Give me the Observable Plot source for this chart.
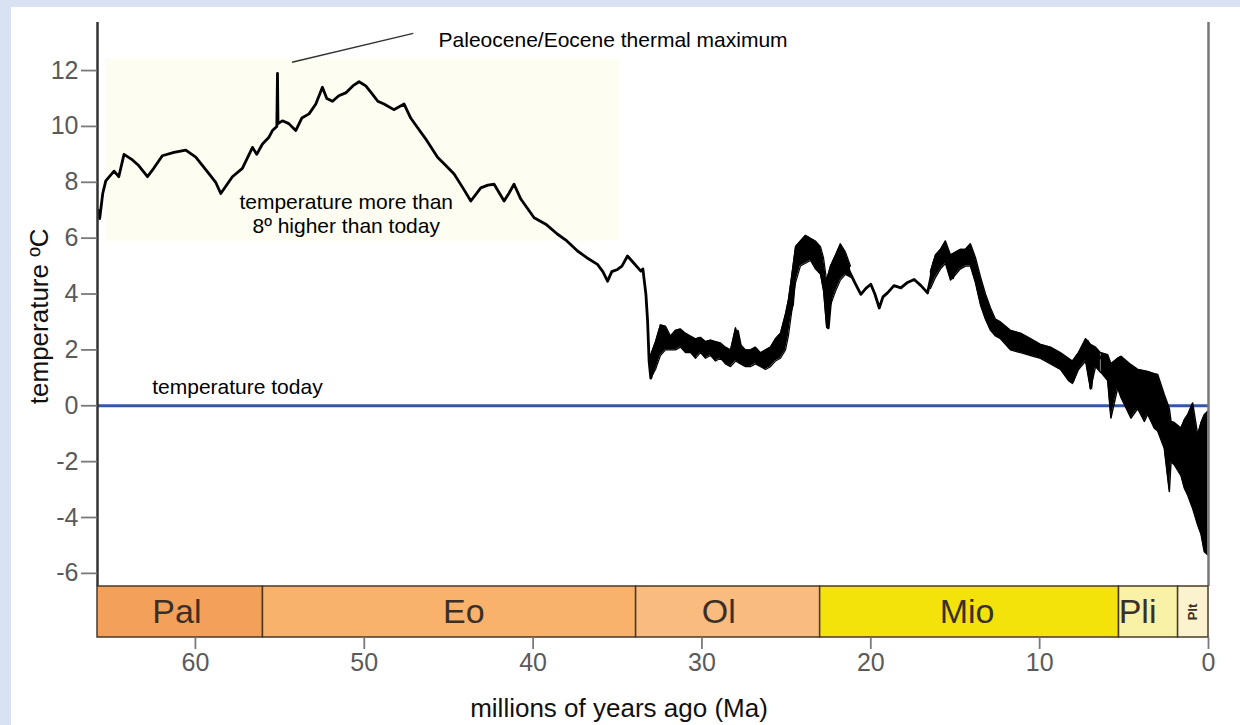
<!DOCTYPE html>
<html><head><meta charset="utf-8">
<script src="https://cdn.jsdelivr.net/npm/d3@7"></script>
<script src="https://cdn.jsdelivr.net/npm/@observablehq/plot@0.6"></script>
<style>
html,body{margin:0;padding:0;background:#d9e2f3;width:1240px;height:725px;overflow:hidden;}
#panel{position:absolute;left:11px;top:7px;width:1229px;height:718px;background:#fff;}
#panel svg{display:block;}
</style></head><body><div id="panel"></div>
<script>
// ---- data ----
const ageMa = [65.76,65.67,65.49,65.31,64.82,64.54,64.23,63.73,63.36,62.84,62.47,61.96,61.27,60.57,59.98,59.19,58.80,58.50,57.81,57.22,56.62,56.37,56.03,55.66,55.44,55.18,55.14,55.11,54.85,54.47,54.06,53.70,53.27,52.87,52.48,52.22,51.88,51.51,51.10,50.68,50.31,49.91,49.51,49.20,48.83,48.25,47.64,47.25,46.85,46.30,45.66,45.17,44.68,44.16,43.69,43.10,42.68,42.31,41.72,41.44,41.13,40.73,39.94,39.25,38.55,38.00,37.37,36.82,36.19,35.87,35.59,35.34,35.00,34.74,34.41,34.03,33.62,33.50,33.32,33.22,33.13,33.03,32.73,32.49,32.24,31.96,31.65,31.37,31.05,30.78,30.46,30.06,29.67,29.30,28.88,28.58,28.29,27.89,27.64,27.30,27.04,26.71,26.39,26.02,25.80,25.52,25.21,24.93,24.63,24.44,24.14,23.74,23.49,23.25,22.86,22.66,22.52,22.26,22.01,21.67,21.47,21.28,20.94,20.59,20.29,20.00,19.76,19.50,19.28,19.01,18.63,18.22,17.86,17.43,17.03,16.64,16.44,16.24,15.97,15.65,15.43,15.15,14.96,14.66,14.37,14.07,13.89,13.67,13.48,13.28,13.00,12.69,12.29,11.70,11.11,10.52,10.04,9.53,9.03,8.54,8.26,8.04,7.79,7.55,7.16,7.05,6.96,6.78,6.37];
const tempC = [7.0,6.7,7.6,8.05,8.4,8.2,9.0,8.8,8.6,8.2,8.5,8.95,9.07,9.15,8.9,8.3,8.0,7.6,8.2,8.5,9.25,9.0,9.37,9.6,9.85,10.0,11.9,10.1,10.2,10.1,9.85,10.3,10.45,10.8,11.4,11.0,10.9,11.1,11.2,11.45,11.6,11.45,11.15,10.9,10.8,10.6,10.8,10.3,9.96,9.5,8.9,8.6,8.3,7.8,7.33,7.8,7.9,7.93,7.33,7.6,7.93,7.4,6.73,6.5,6.14,5.9,5.54,5.3,5.06,4.8,4.46,4.8,4.88,5.0,5.36,5.1,4.82,4.9,3.99,3.03,1.59,0.99,1.6,2.3,2.67,2.2,2.43,2.7,2.49,2.3,2.07,2.3,1.95,2.2,2.0,1.8,1.6,2.67,1.9,1.6,1.8,1.95,1.7,1.6,1.9,2.19,2.6,3.03,3.63,5.42,5.7,6.02,5.6,5.42,5.06,3.75,2.79,4.58,5.0,5.42,5.2,4.82,4.4,3.99,4.2,4.35,4.0,3.5,3.9,4.04,4.3,4.22,4.4,4.52,4.3,4.04,4.6,5.18,5.4,5.78,5.2,4.58,5.0,5.18,5.3,5.48,5.2,4.22,3.8,3.39,3.0,2.67,2.5,2.07,2.2,2.07,1.9,1.83,1.7,1.47,1.2,0.88,1.3,1.59,2.31,1.6,0.64,1.9,1.71];

// noisy stretches drawn as an envelope (upper / lower edge of the black band)
const oligoMa = [33.05,32.75,32.46,32.16,31.86,31.57,31.27,30.98,30.68,30.38,30.09,29.79,29.49,29.20,28.90,28.61,28.31,28.01,27.72,27.42,27.13,26.83,26.53,26.24,25.94,25.65,25.35,25.05,24.88,24.70,24.46,24.17,23.87,23.57,23.28,22.98,22.80,22.62,22.39,22.09,21.80,21.50,21.20];
const oligoHi = [1.8,2.3,2.9,2.85,2.5,2.7,2.75,2.6,2.5,2.4,2.45,2.3,2.35,2.3,2.25,2.1,2.0,2.8,2.2,2.0,2.0,2.1,1.9,2.0,2.1,2.4,2.6,3.3,3.8,4.6,5.7,5.9,6.1,6.0,5.9,5.7,5.3,4.5,5.0,5.4,5.8,5.5,5.0];
const oligoLo = [0.99,1.3,1.8,2.0,2.0,2.0,2.1,1.9,1.9,1.7,1.9,1.7,1.8,1.6,1.7,1.5,1.4,1.6,1.5,1.4,1.4,1.5,1.4,1.3,1.4,1.6,1.7,2.0,2.5,3.3,4.4,5.0,5.1,5.2,4.9,4.7,4.1,2.8,3.6,4.1,4.5,4.7,4.6];

const mioMa = [16.47,16.17,15.87,15.58,15.28,14.98,14.69,14.39,14.10,13.80,13.50,13.21,12.91,12.62,12.32,11.73,11.13,10.54,9.95,9.36,8.77,8.29,8.06,7.70,7.28,6.99,6.69,6.40];
const mioHi = [4.8,5.4,5.6,5.9,5.4,5.5,5.6,5.6,5.8,5.3,4.6,4.0,3.5,3.1,3.0,2.7,2.6,2.4,2.2,2.1,1.9,1.7,1.6,1.9,2.4,2.2,2.1,1.9];
const mioLo = [4.2,4.6,4.9,5.1,4.5,4.7,4.9,5.0,5.0,4.4,3.6,3.1,2.7,2.5,2.4,2.0,1.9,1.8,1.7,1.5,1.3,0.9,0.8,1.3,1.6,0.6,1.4,1.2];

// recent, strongly oscillating part
const bandMa = [6.37,5.97,5.78,5.38,5.18,4.59,4.19,3.80,3.60,3.21,3.01,2.62,2.32,2.22,2.03,1.63,1.43,1.23,0.94,0.64,0.44,0.25,0.03];
const bandHi = [1.9,1.83,1.5,1.7,1.77,1.47,1.3,1.25,1.23,1.15,1.12,0.4,-0.1,-0.56,-0.6,-0.8,-0.5,-0.32,0.1,-1.04,-0.6,-0.32,-0.2];
const bandLo = [1.2,0.9,-0.44,0.64,0.3,-0.44,-0.1,-0.56,-0.3,-0.8,-0.9,-1.52,-3.07,-2.0,-2.11,-2.5,-2.95,-3.2,-3.67,-4.27,-4.6,-5.22,-5.34];

const epochNames  = ["Pal","Eo","Ol","Mio","Pli","Plt"];
const epochStart  = [65.8,56.0,33.9,23.0,5.3,1.8];
const epochEnd    = [56.0,33.9,23.0,5.3,1.8,0];
const epochColors = ["#f2a05a","#f8b26b","#fabb7e","#f3e30b","#f8f1a6","#faf3cd"];
const epochLabelMa = [61.1,44.1,29.0,14.3,4.2,0.9];

const yTicks = [-6,-4,-2,0,2,4,6,8,10,12];
const xTicks = [60,50,40,30,20,10,0];
const xDomain = [65.8,0];
const yDomain = [-6.47,13.72];

const todayTemp = [0];
const warmZone = [{fromMa:65.3,toMa:34.8,low:5.9,high:12.4}];
const petmPointer = [{ma1:54.28,t1:12.30,ma2:47.1,t2:13.33}];
const labels = {
  petm: {ma:45.6,t:13.08,text:"Paleocene/Eocene thermal maximum"},
  warm: {ma:51.07,t:6.88,text:"temperature more than\n8º higher than today"},
  today:{ma:62.56,t:0.65,text:"temperature today"},
  yTitle:{ma:65.8,t:3.2,text:"temperature ºC"}
};

// ---- build tables ----
const series = ageMa.map((a,i)=>({ma:a,t:tempC[i]}));
const toBand = (m,h,l)=>m.map((a,i)=>({ma:a,hi:h[i],lo:l[i]}));
const band = toBand(bandMa,bandHi,bandLo);
const oligo = toBand(oligoMa,oligoHi,oligoLo);
const mio = toBand(mioMa,mioHi,mioLo);
const epochs = epochNames.map((n,i)=>({name:n,start:epochStart[i],end:epochEnd[i],color:epochColors[i],lab:epochLabelMa[i]}));

const font = "'Liberation Sans', Arial, Helvetica, sans-serif";
const W = 1229, ML = 86, MR = 32;
const bandMarks = (d, w) => [
  Plot.areaY(d, {x:"ma", y1:"lo", y2:"hi", fill:"#000"}),
  Plot.line(d, {x:"ma", y:"hi", stroke:"#000", strokeWidth:w}),
  Plot.line(d, {x:"ma", y:"lo", stroke:"#000", strokeWidth:w})
];

const main = Plot.plot({
  width: W, height: 579,
  marginLeft: ML, marginRight: MR, marginTop: 15, marginBottom: 0,
  style: {fontFamily: font, background: "transparent", overflow: "visible"},
  x: {domain: xDomain, axis: null},
  y: {domain: yDomain, axis: null},
  marks: [
    Plot.rect(warmZone, {x1:"fromMa", x2:"toMa", y1:"low", y2:"high", fill:"#fefdf1"}),
    Plot.ruleY(todayTemp, {stroke:"#3357a8", strokeWidth:3}),
    Plot.line(series, {x:"ma", y:"t", stroke:"#000", strokeWidth:2.8, strokeLinejoin:"round"}),
    ...bandMarks(oligo, 1.2),
    ...bandMarks(mio, 1.4),
    ...bandMarks(band, 1.5),
    Plot.ruleX([xDomain[0]], {stroke:"#333", strokeWidth:2.5}),
    Plot.ruleX([xDomain[1]], {stroke:"#777", strokeWidth:2.5}),
    Plot.axisY(yTicks, {tickSize:16, tickPadding:3, fontSize:25, stroke:"#7a7a7a", fill:"#5a5a5a", strokeWidth:1.8, tickFormat:d=>String(d), label:null}),
    Plot.text([labels.yTitle], {x:"ma", y:"t", text:"text", rotate:-90, dx:-58, fontSize:26, fill:"#111"}),
    Plot.link(petmPointer, {x1:"ma1", y1:"t1", x2:"ma2", y2:"t2", stroke:"#333", strokeWidth:1.5}),
    Plot.text([labels.petm], {x:"ma", y:"t", text:"text", textAnchor:"start", fontSize:21, fill:"#000"}),
    Plot.text([labels.warm], {x:"ma", y:"t", text:"text", fontSize:21, lineHeight:1.15, fill:"#000"}),
    Plot.text([labels.today], {x:"ma", y:"t", text:"text", textAnchor:"start", fontSize:21, fill:"#000"})
  ]
});

const bar = Plot.plot({
  width: W, height: 139,
  marginLeft: ML, marginRight: MR, marginTop: 0, marginBottom: 88,
  style: {fontFamily: font, background: "transparent", overflow: "visible"},
  x: {domain: xDomain, axis: null},
  marks: [
    Plot.rect(epochs, {x1:"start", x2:"end", fill:"color", stroke:"#4a3a2a", strokeWidth:1.5}),
    Plot.text(epochs.filter(d=>d.name!=="Plt"), {x:"lab", frameAnchor:"middle", text:"name", fontSize:34, fill:"#3a3028"}),
    Plot.text(epochs.filter(d=>d.name==="Plt"), {x:"lab", frameAnchor:"middle", text:"name", fontSize:13, rotate:-90, fill:"#3a3028", fontWeight:"bold"}),
    Plot.axisX(xTicks, {tickSize:12, tickPadding:4, fontSize:25, stroke:"#7a7a7a", fill:"#5a5a5a", strokeWidth:1.8, label:null}),
    Plot.text(["millions of years ago (Ma)"], {frameAnchor:"bottom", dx:-34, dy:79, fontSize:26, fill:"#111"})
  ]
});

const panel = document.getElementById("panel");
panel.appendChild(main);
panel.appendChild(bar);
</script></body></html>
